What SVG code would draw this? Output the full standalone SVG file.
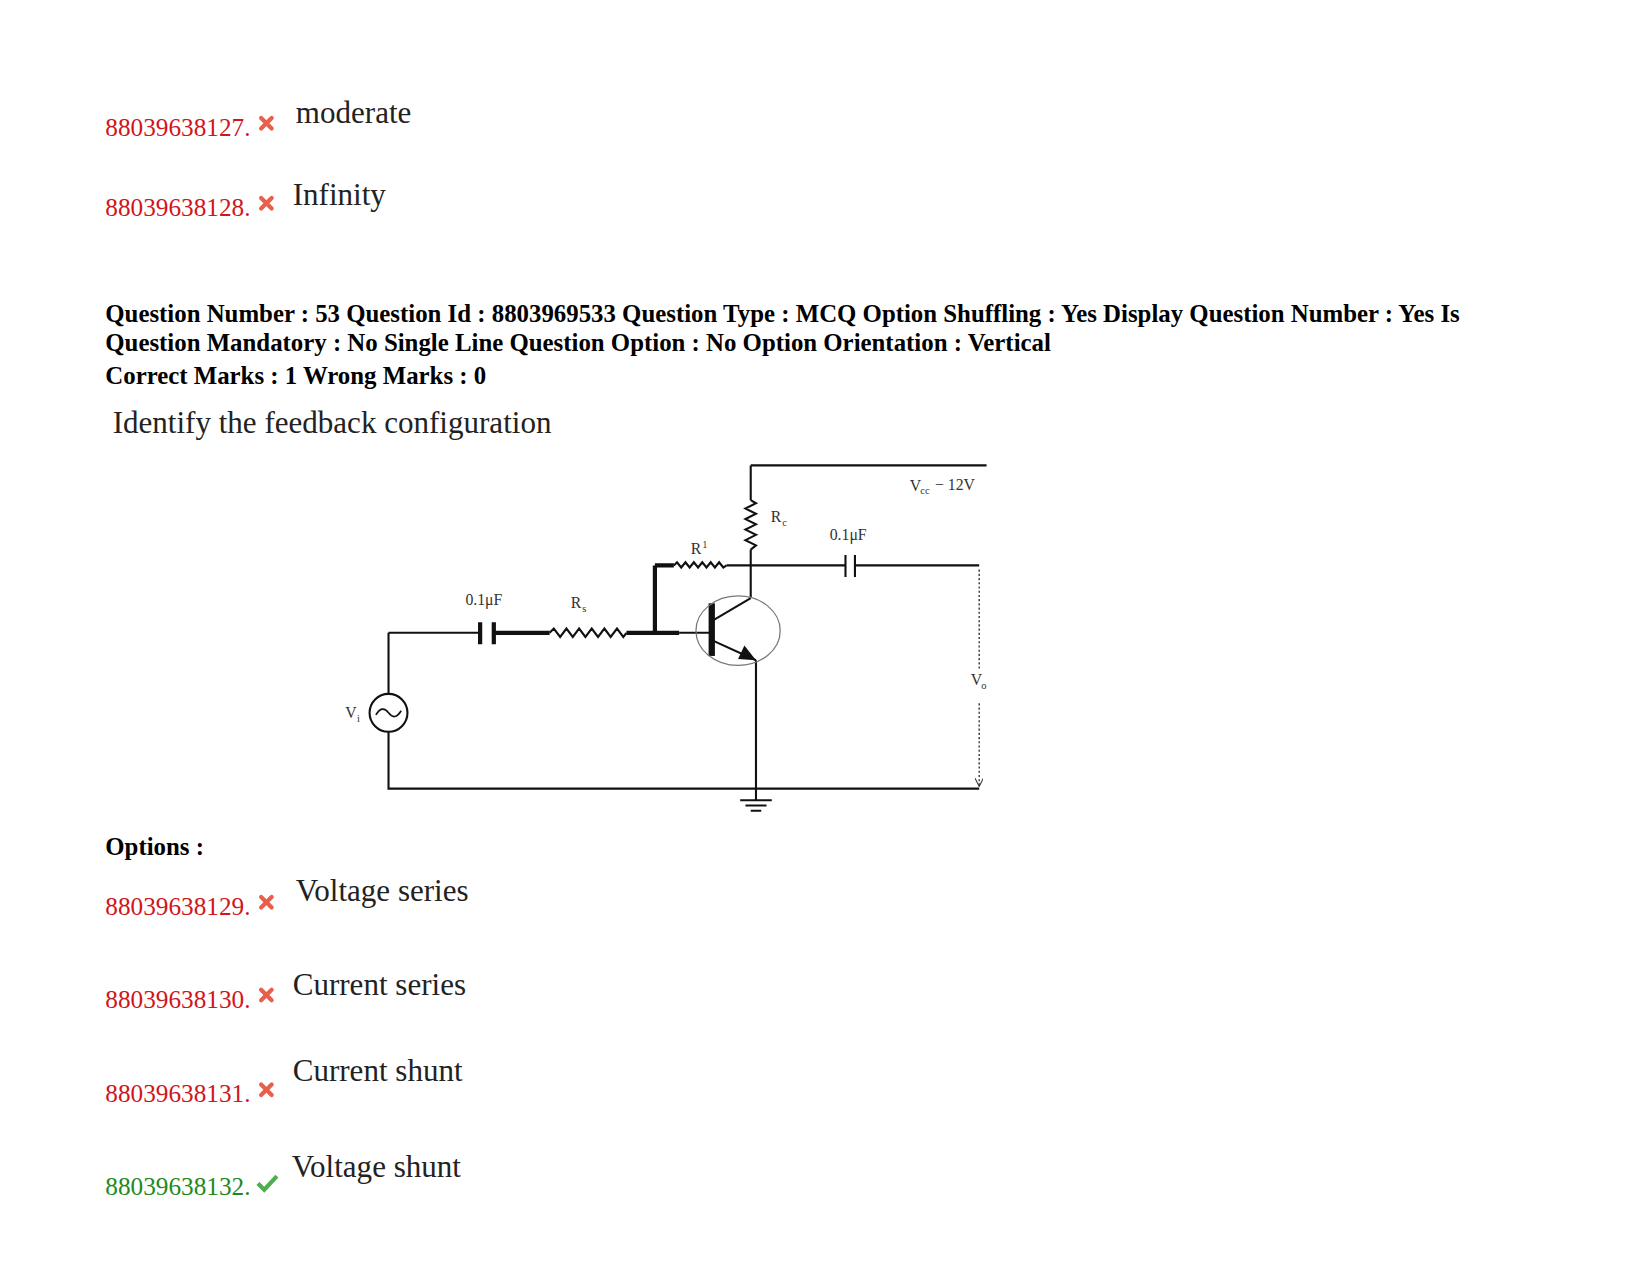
<svg xmlns="http://www.w3.org/2000/svg" width="1651" height="1275" viewBox="0 0 1651 1275">
<style>
.red{font-family:"Liberation Serif",serif;font-size:24px;fill:#d0161b}
.grn{font-family:"Liberation Serif",serif;font-size:24px;fill:#1e8a1e}
.ans{font-family:"Liberation Serif",serif;font-size:29.5px;fill:#222}
.hdr{font-family:"Liberation Serif",serif;font-size:23.6px;font-weight:bold;fill:#000}
.lbl{font-family:"Liberation Serif",serif;font-size:15px;fill:#333}
.sub{font-family:"Liberation Serif",serif;font-size:10px;fill:#333}
.w{stroke:#111;stroke-width:2;fill:none}
.t{stroke:#111;stroke-width:4;fill:none}
.x{stroke:#e8604c;stroke-width:4;stroke-linecap:round}
</style>
<defs>
<marker id="ah" markerWidth="8" markerHeight="8" refX="7" refY="4" orient="auto" markerUnits="userSpaceOnUse"><path d="M0,0 L8,4 L0,8" fill="none" stroke="#333" stroke-width="1"/></marker>
<g id="cross"><line class="x" x1="-5" y1="-5" x2="5" y2="5"/><line class="x" x1="5" y1="-5" x2="-5" y2="5"/></g>
</defs>
<rect width="1651" height="1275" fill="#fff"/>
<g transform="scale(1.0529)">
<g id="opt127"><text class="red" x="100" y="129">88039638127.</text><use href="#cross" x="253" y="117"/><text class="ans" x="281" y="117">moderate</text></g>
<g id="opt128"><text class="red" x="100" y="205">88039638128.</text><use href="#cross" x="253" y="193"/><text class="ans" x="278" y="195">Infinity</text></g>
<g id="header">
<text class="hdr" x="100" y="306">Question Number : 53 Question Id : 8803969533 Question Type : MCQ Option Shuffling : Yes Display Question Number : Yes Is</text>
<text class="hdr" x="100" y="333">Question Mandatory : No Single Line Question Option : No Option Orientation : Vertical</text>
<text class="hdr" x="100" y="365">Correct Marks : 1 Wrong Marks : 0</text>
<text class="ans" x="107" y="411">Identify the feedback configuration</text>
</g>
<g id="circuit">
<g id="connectors">
<path class="w" d="M713,442 H937 M713,442 V475 M713,522 V568"/>
<path class="w" d="M713,475 l5,3 l-10,5 l10,5 l-10,5 l10,5 l-10,5 l10,5 l-10,5 l10,5 l-5,4"/>
<path class="w" d="M690,537 H803 M812,537 H930"/>
<path class="w" d="M803,527 V548 M812,527 V548"/>
<path class="w" d="M640,537 l3,-3 l4,5 l4,-5 l4,5 l4,-5 l4,5 l4,-5 l4,5 l4,-5 l4,5 l4,-5 l4,5 l3,-2" stroke-width="1.5"/>
<path class="t" d="M622,537 H640 M622,537 V601"/>
<path class="w" d="M369,601 H455 M369,601 V659 M369,695 V749 H930"/>
<path class="t" d="M456,591 V612 M469,591 V612 M469,601 H522 M595,601 H645"/>
<path class="w" d="M522,601 l4,-4 l6,8 l6,-8 l6,8 l6,-8 l6,8 l6,-8 l6,8 l6,-8 l6,8 l6,-8 l6,8 l3,-4"/>
<path class="w" d="M645,601 H676"/>
<path d="M676,573 V623" stroke="#111" stroke-width="6"/>
<path class="w" d="M676,590 L713,568 M676,608 L718,627 M718,627 V760"/>
<path d="M718,627 L701,626 L707,613 Z" fill="#111"/>
<path class="w" d="M703,760 H733 M708,765 H728 M713,770 H723"/>
<path d="M930,635 V541 M930,668 V746" stroke="#333" stroke-width="1.3" stroke-dasharray="2,2" fill="none" marker-end="url(#ah)"/>
</g>
<g id="transistor"><ellipse cx="701" cy="599" rx="40" ry="33" fill="none" stroke="#777" stroke-width="1.2"/></g>
<g id="vi"><circle cx="369" cy="677" r="18" fill="none" stroke="#111" stroke-width="2"/><path d="M357,679 q6,-10 12,-2 q6,8 12,-2" fill="none" stroke="#111" stroke-width="1.6"/><text class="lbl" x="328" y="682">V</text><text class="sub" x="339" y="686">i</text></g>
<g id="labels">
<text class="lbl" x="864" y="466">V</text><text class="sub" x="874" y="469">cc</text><text class="lbl" x="888" y="465">− 12V</text>
<text class="lbl" x="732" y="496">R</text><text class="sub" x="743" y="500">c</text>
<text class="lbl" x="788" y="513">0.1μF</text>
<text class="lbl" x="656" y="526">R</text><text class="sub" x="667" y="520">1</text>
<text class="lbl" x="442" y="575">0.1μF</text>
<text class="lbl" x="542" y="577">R</text><text class="sub" x="553" y="581">s</text>
<text class="lbl" x="922" y="651">V</text><text class="sub" x="932" y="654">o</text>
</g>
</g>
<text class="hdr" x="100" y="812">Options :</text>
<g id="opt129"><text class="red" x="100" y="869">88039638129.</text><use href="#cross" x="253" y="857"/><text class="ans" x="281" y="856">Voltage series</text></g>
<g id="opt130"><text class="red" x="100" y="957">88039638130.</text><use href="#cross" x="253" y="945"/><text class="ans" x="278" y="945">Current series</text></g>
<g id="opt131"><text class="red" x="100" y="1047">88039638131.</text><use href="#cross" x="253" y="1035"/><text class="ans" x="278" y="1027">Current shunt</text></g>
<g id="opt132"><text class="grn" x="100" y="1135">88039638132.</text><path d="M245,1124 l6,6 l12,-13" fill="none" stroke="#4caf50" stroke-width="4"/><text class="ans" x="277" y="1118">Voltage shunt</text></g>
</g>
</svg>
